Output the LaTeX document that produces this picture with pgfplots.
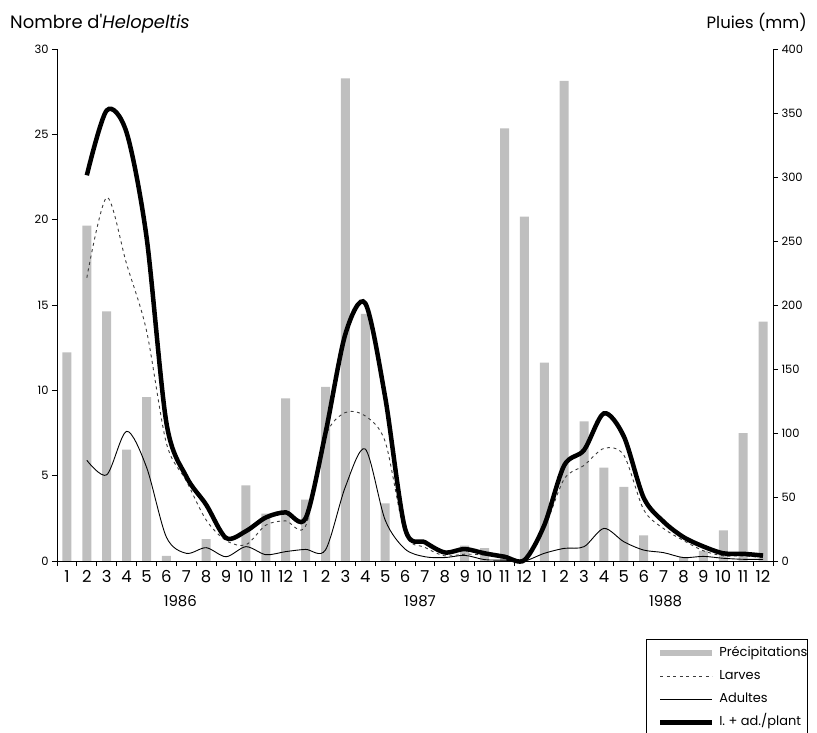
\documentclass[border=0pt]{standalone}
\usepackage{pgfplots}
\pgfplotsset{compat=1.18}
\usepackage{pgfplotstable}
\usepackage{fontspec}
\setmainfont{Poppins}
\definecolor{barcol}{RGB}{191,191,191}
\definecolor{dashcol}{RGB}{60,60,60}

\pgfplotstableread{
m rain
1 163
2 262
3 195
4 87
5 128
6 4
7 0
8 17
9 0
10 59
11 37
12 127
13 48
14 136
15 377
16 193
17 45
18 0
19 0
20 0
21 12
22 10
23 338
24 269
25 155
26 375
27 109
28 73
29 58
30 20
31 0
32 3
33 8
34 24
35 100
36 187
}\raintable

\pgfplotstableread{
m larves adultes total
2 16.6 5.9 22.6
3 21.3 5.05 26.4
4 17.4 7.6 25.1
5 13.5 5.5 19.0
6 6.9 1.4 8.1
7 4.7 0.45 4.95
8 2.4 0.78 3.3
9 1.2 0.25 1.35
10 0.95 0.84 1.75
11 2.1 0.37 2.55
12 2.35 0.55 2.85
13 2.05 0.68 2.5
14 7.3 0.65 7.5
15 8.7 4.35 13.3
16 8.5 6.56 15.1
17 7.0 2.4 9.6
18 1.6 0.7 1.9
19 0.8 0.25 1.1
20 0.3 0.2 0.5
21 0.4 0.33 0.7
22 0.35 0.08 0.45
23 0.2 0.05 0.25
24 0.05 0.0 0.05
25 1.9 0.45 2.1
26 4.8 0.74 5.6
27 5.6 0.84 6.5
28 6.6 1.91 8.65
29 6.2 1.13 7.3
30 3.0 0.64 3.7
31 1.9 0.49 2.3
32 1.2 0.2 1.4
33 0.6 0.27 0.85
34 0.3 0.16 0.45
35 0.3 0.1 0.42
36 0.2 0.1 0.32
}\linetable

\begin{document}
\begin{tikzpicture}
\path[use as bounding box] (-57bp,-172bp) rectangle (760bp,561bp);
% rainfall axis (right)
\begin{axis}[
  at={(0,0)}, anchor=south west,
  scale only axis, width=716bp, height=512bp,
  xmin=0.5, xmax=36.5, ymin=0, ymax=400,
  axis y line*=right, axis x line*=bottom,
  axis line style={-, black, line width=0.8bp},
  xtick={1,...,36},
  xticklabels={1,2,3,4,5,6,7,8,9,10,11,12,1,2,3,4,5,6,7,8,9,10,11,12,1,2,3,4,5,6,7,8,9,10,11,12},
  xtick style={draw=none},
  x tick label style={font=\fontsize{16.5}{16.5}\selectfont, inner xsep=0pt, yshift=-1bp},
  ytick={0,50,...,400},
  tick align=outside, major tick length=5bp,
  ytick style={black, line width=0.8bp},
  y tick label style={font=\fontsize{11.5}{11.5}\selectfont},
  /pgf/number format/assume math mode=true,
  clip=false,
]
\addplot[ybar, bar width=9bp, fill=barcol, draw=none] table[x=m,y=rain]{\raintable};
\node[font=\fontsize{15}{15}\selectfont] at (axis cs:6.7,0) [yshift=-40bp] {1986};
\node[font=\fontsize{15}{15}\selectfont] at (axis cs:18.75,0) [yshift=-40bp] {1987};
\node[font=\fontsize{15}{15}\selectfont] at (axis cs:31.1,0) [yshift=-40bp] {1988};
\end{axis}
% insects axis (left)
\begin{axis}[
  at={(0,0)}, anchor=south west,
  scale only axis, width=716bp, height=512bp,
  xmin=0.5, xmax=36.5, ymin=0, ymax=30,
  axis y line*=left, axis x line*=bottom,
  axis line style={-, black, line width=0.8bp},
  xtick={0.5,1.5,...,36.5}, xticklabels={},
  ytick={0,5,...,30},
  tick align=outside, major tick length=5bp,
  tick style={black, line width=0.8bp},
  y tick label style={font=\fontsize{11.5}{11.5}\selectfont},
  /pgf/number format/assume math mode=true,
  clip=false,
  legend image code/.code={\path[draw=none,fill=none] (-14bp,0bp) -- (59bp,0bp); \draw[#1] (0bp,0bp) -- (52bp,0bp);},
  legend style={at={(0.8226,-0.1523)}, anchor=north west, draw=black, line width=0.6bp,
    font=\fontsize{13}{13}\selectfont, row sep=10bp, column sep=0pt,
    inner xsep=0pt, inner ysep=7.5bp,
    nodes={inner xsep=0pt, inner ysep=0pt, text height=10bp, text depth=3bp},
    cells={anchor=west}},
]
\addlegendimage{barcol, line width=6bp}
\addlegendentry{Précipitations\hspace{2bp}}
\addplot[dashcol, line width=0.9bp, dash pattern=on 3bp off 3.5bp, smooth, tension=0.5] table[x=m,y=larves]{\linetable};
\addlegendentry{Larves}
\addplot[black, line width=0.9bp, smooth, tension=0.5] table[x=m,y=adultes]{\linetable};
\addlegendentry{Adultes}
\addplot[black, line width=4.5bp, smooth, tension=0.5] table[x=m,y=total]{\linetable};
\addlegendentry{I. + ad./plant}
\end{axis}
\node[anchor=base west, font=\fontsize{18}{18}\selectfont, inner sep=0pt] at (-47bp,532bp) {Nombre d\textquotesingle\textit{Helopeltis}};
\node[anchor=base east, font=\fontsize{16.5}{16.5}\selectfont, inner sep=0pt] at (750bp,532bp) {Pluies (mm)};
\end{tikzpicture}
\end{document}
